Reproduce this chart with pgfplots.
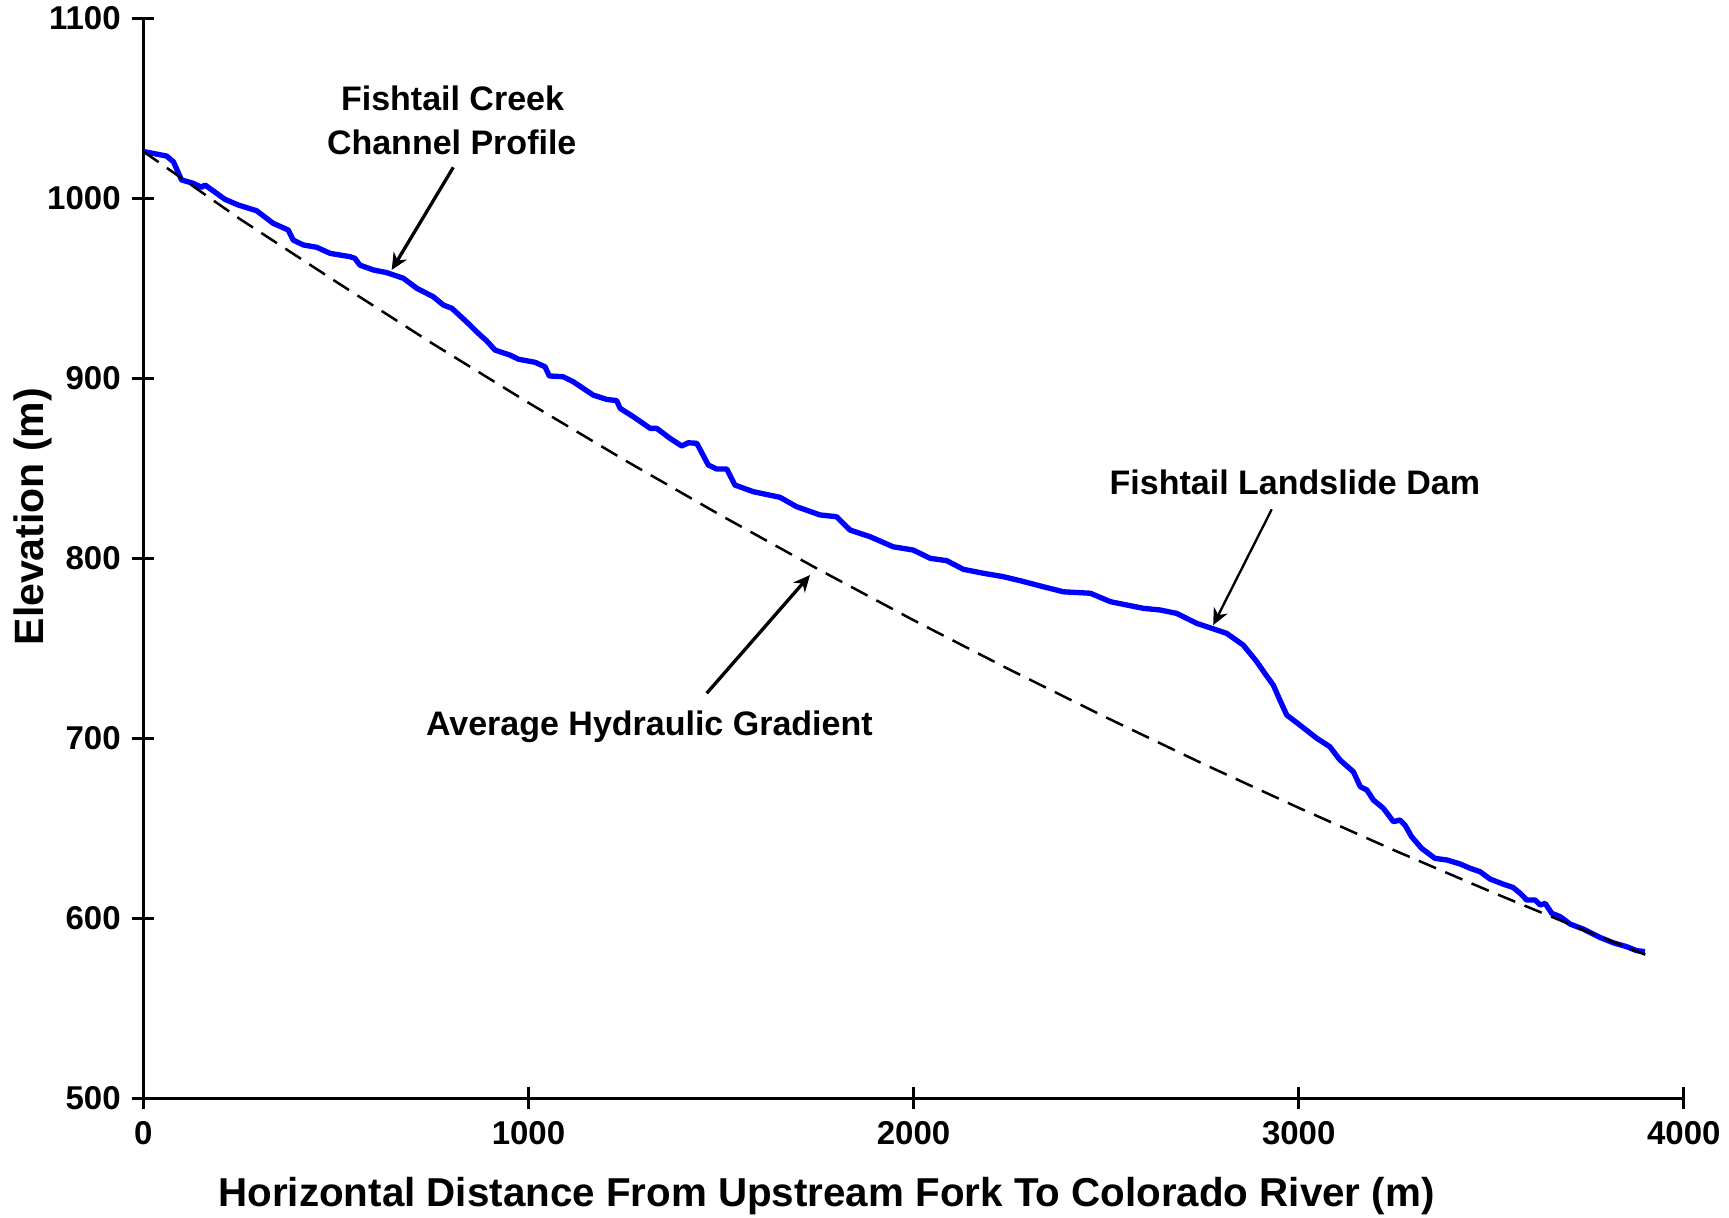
\documentclass[border=0pt]{standalone}
\usepackage{fontspec}
\setmainfont{Liberation Sans}
\usepackage{pgfplots}
\pgfplotsset{compat=1.18}
\usetikzlibrary{arrows.meta}

\begin{document}
\begin{tikzpicture}
\useasboundingbox (-43.02pt,-35.61pt) rectangle (475.68pt,329.49pt);
\begin{axis}[
  at={(0,0)}, anchor=south west, scale only axis,
  width=462.12pt, height=324pt,
  xmin=0, xmax=4000, ymin=500, ymax=1100,
  axis lines=left,
  axis line style={line width=0.9pt,-},
  xtick={0,1000,2000,3000,4000},
  ytick={500,600,700,800,900,1000,1100},
  tick align=center, major tick length=6.6pt,
  tick style={line width=0.9pt, black},
  tick label style={font=\fontsize{9.9}{11}\selectfont\bfseries},
  /pgf/number format/assume math mode=true,
  /pgf/number format/1000 sep={},
  scaled ticks=false,
  xlabel={Horizontal Distance From Upstream Fork To Colorado River (m)},
  xlabel style={font=\fontsize{12.1}{14}\selectfont\bfseries, at={(axis description cs:0.4435,-0.1004)}, anchor=base},
  ylabel={Elevation (m)},
  ylabel style={font=\fontsize{12.3}{14}\selectfont\bfseries, at={(axis description cs:-0.072,0.5386)}, anchor=center},
  clip=false,
]
\addplot[blue, line width=1.6pt, line join=round] coordinates {
(0,1026) (60,1023.5) (78,1020.3) (99,1010.2) (130,1008.3) (151,1006.1) (160,1007.4)
(212,999.4) (246,996.3) (294,993.1) (337,986.1) (376,982.4) (389,976.8) (415,974.1)
(450,972.8) (485,969.4) (536,967.6) (549,966.7) (562,962.9) (597,960.2) (632,958.7)
(675,955.6) (710,950) (753,945.3) (779,940.7) (801,938.9) (839,931.4) (874,924.1)
(891,920.9) (913,915.7) (952,912.9) (974,910.6) (1017,908.9) (1043,906.4) (1054,901.3)
(1090,900.9) (1116,898.1) (1142,894.4) (1168,890.7) (1203,888.3) (1229,887.6) (1238,883.3)
(1272,878.7) (1316,872.2) (1333,872.2) (1367,866.7) (1398,862.4) (1415,864.2) (1437,863.9)
(1467,851.8) (1489,849.6) (1515,849.6) (1536,840.7) (1584,837) (1653,833.9) (1696,828.7)
(1757,824.1) (1800,823.1) (1835,815.7) (1887,812) (1947,806.4) (1999,804.6) (2043,800)
(2086,798.7) (2129,793.9) (2181,791.7) (2233,789.8) (2276,787.6) (2337,784.2) (2389,781.4)
(2459,780.6) (2511,775.9) (2597,772.2) (2640,771.3) (2683,769.4) (2735,763.9) (2787,760.2)
(2813,758.3) (2856,751.8) (2891,742.6) (2912,736.1) (2934,729.6) (2951,721.3) (2969,712.9)
(2995,708.7) (3047,700) (3081,695.3) (3107,688) (3142,681.4) (3160,673.1) (3177,671.3)
(3194,665.7) (3220,661.1) (3246,653.7) (3263,654.6) (3276,651.8) (3293,645.4) (3319,638.9)
(3354,633.3) (3385,632.4) (3419,630.2) (3445,627.8) (3471,625.9) (3497,621.8) (3531,619)
(3557,617.1) (3575,613.9) (3592,610.2) (3614,610.2) (3627,607.4) (3640,608.3) (3657,602.8)
(3679,600.9) (3705,596.8) (3739,594) (3782,589.4) (3817,586.4) (3852,584.2) (3878,582)
(3899,581.5)
};
\addplot[black, line width=0.75pt, dash pattern=on 5.6pt off 3pt] coordinates {
(0,1026) (250,988.6) (500,953.7) (750,919.4) (1000,886.4) (1250,854.5) (1500,823.8)
(1750,794.2) (2000,765.6) (2250,738.1) (2500,711.6) (2750,686) (3000,661.4) (3250,637.6)
(3500,614.7) (3750,592.6) (3900,579.8)
};
\node[font=\fontsize{10.2}{12}\selectfont\bfseries, anchor=base] at (axis cs:802.7,1048.7) {Fishtail Creek};
\node[font=\fontsize{10.2}{12}\selectfont\bfseries, anchor=base] at (axis cs:800.6,1024.6) {Channel Profile};
\node[font=\fontsize{10.2}{12}\selectfont\bfseries, anchor=base] at (axis cs:2990,835.7) {Fishtail Landslide Dam};
\node[font=\fontsize{10.2}{12}\selectfont\bfseries, anchor=base] at (axis cs:1314,701.3) {Average Hydraulic Gradient};
\draw[line width=1pt, -{Stealth[length=5pt,width=4.6pt]}] (axis cs:804.7,1017.2) -- (axis cs:644.8,960.2);
\draw[line width=0.7pt, -{Stealth[length=5pt,width=4.6pt]}] (axis cs:2930,827.2) -- (axis cs:2778,762.9);
\draw[line width=1pt, -{Stealth[length=5pt,width=4.6pt]}] (axis cs:1462.7,725) -- (axis cs:1731,790.7);
\end{axis}
\end{tikzpicture}
\end{document}
